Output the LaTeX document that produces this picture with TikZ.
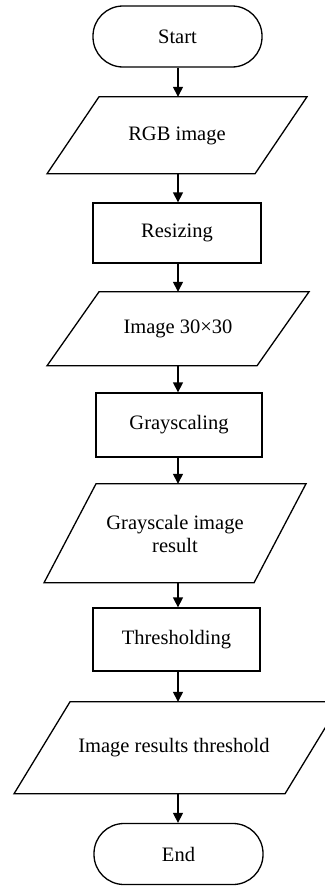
\documentclass[tikz,border=0pt]{standalone}
\usepackage{fontspec}
\setmainfont{Liberation Serif}
\usetikzlibrary{arrows.meta}
\begin{document}
\begin{tikzpicture}[x=1pt,y=-1pt,
  every node/.style={font=\fontsize{20.5}{23}\selectfont, align=center, inner sep=0pt},
  term/.style={draw, line width=1.3pt, rounded corners=30pt, minimum width=169pt, minimum height=61pt},
  proc/.style={draw, line width=1.3pt, minimum width=167pt, minimum height=61pt},
  iobox/.style={minimum width=1pt},
  arr/.style={line width=1.3pt, -{Triangle[length=10pt,width=10pt]}},
  para/.style={draw, line width=1.3pt, line join=miter}
]
\useasboundingbox (0,0) rectangle (324,886);
\coordinate (ax) at (178,0);

\node[term] (start) at (177.5,36.5) {Start};
\node[iobox, minimum height=77pt] (rgb) at (177,135.5) {RGB image};
\draw[para] (rgb.north) ++(-78,0) -- ++(208,0) -- ++(-52,77) -- ++(-208,0) -- cycle;

\node[proc, minimum width=168pt, minimum height=60pt] (resize) at (177,233) {Resizing};

\node[iobox, minimum height=74pt] (img30) at (178,329) {Image 30×30};
\draw[para] (img30.north) ++(-79,0) -- ++(210,0) -- ++(-52,74) -- ++(-210,0) -- cycle;

\node[proc, minimum width=166pt, minimum height=64pt] (gray) at (179,425) {Grayscaling};

\node[iobox, minimum height=99pt] (grayres) at (175,533.5) {Grayscale image\\result};
\draw[para] (grayres.north) ++(-79,0) -- ++(210,0) -- ++(-52,99) -- ++(-210,0) -- cycle;

\node[proc, minimum width=167pt, minimum height=63pt] (thresh) at (176.5,639.5) {Thresholding};

\node[iobox, minimum height=92pt] (thres) at (174,748) {Image results threshold};
\draw[para] (thres.north) ++(-104,0) -- ++(271,0) -- ++(-56,92) -- ++(-271,0) -- cycle;

\node[term] (end) at (178.5,854) {End};

\draw[arr] (start.south -| ax) -- (rgb.north -| ax);
\draw[arr] (rgb.south -| ax) -- (resize.north -| ax);
\draw[arr] (resize.south -| ax) -- (img30.north -| ax);
\draw[arr] (img30.south -| ax) -- (gray.north -| ax);
\draw[arr] (gray.south -| ax) -- (grayres.north -| ax);
\draw[arr] (grayres.south -| ax) -- (thresh.north -| ax);
\draw[arr] (thresh.south -| ax) -- (thres.north -| ax);
\draw[arr] (thres.south -| ax) -- (end.north -| ax);
\end{tikzpicture}
\end{document}
